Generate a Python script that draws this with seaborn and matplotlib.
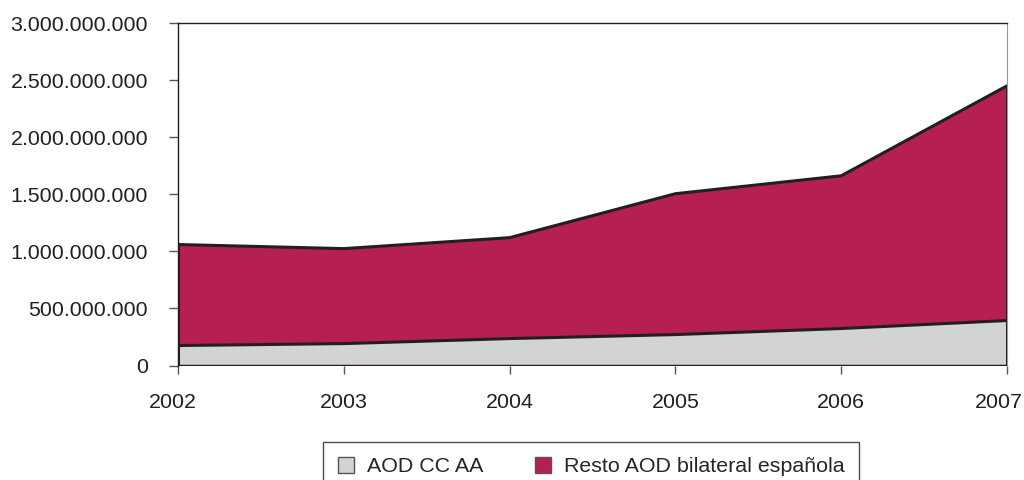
import matplotlib
matplotlib.use("Agg")
import matplotlib.pyplot as plt
import matplotlib.transforms as mtransforms
import seaborn as sns
import pandas as pd
from matplotlib.patches import Patch
from matplotlib.ticker import FuncFormatter

years = [2002, 2003, 2004, 2005, 2006, 2007]
aod_ccaa = [175e6, 192e6, 236e6, 271e6, 324e6, 394e6]
resto_aod = [885e6, 832e6, 884e6, 1234e6, 1338e6, 2056e6]
series_names = ["AOD CC AA", "Resto AOD bilateral española"]
colors = ["#D1D3D4", "#B51F52"]

sns.set_theme(style="white")
plt.rcParams['font.family'] = ['Liberation Sans', 'DejaVu Sans']

total = [a + b for a, b in zip(aod_ccaa, resto_aod)]
df = pd.DataFrame({"year": years, "ccaa": aod_ccaa, "total": total})

fig = plt.figure(figsize=(10.24, 4.8), dpi=100)
ax = fig.add_axes([0.1738, 0.2385, 0.8096, 0.7135])

ax.fill_between(df["year"], 0, df["ccaa"], color=colors[0], lw=0)
ax.fill_between(df["year"], df["ccaa"], df["total"], color=colors[1], lw=0)
sns.lineplot(data=df, x="year", y="ccaa", ax=ax, color="#231F20", lw=2.2)
sns.lineplot(data=df, x="year", y="total", ax=ax, color="#231F20", lw=2.2)
ax.vlines([years[0], years[-1]], 0, [total[0], total[-1]], color="#231F20", lw=2.2)
ax.hlines(0, years[0], years[-1], color="#231F20", lw=2.5, zorder=5)

ax.set_xlim(years[0], years[-1])
ax.set_ylim(0, 3e9)
ax.set_yticks([0, 5e8, 1e9, 1.5e9, 2e9, 2.5e9, 3e9])
ax.yaxis.set_major_formatter(FuncFormatter(lambda v, p: f"{int(v):,}".replace(",", ".")))
ax.set_xticks(years)
ax.set_xlabel("")
ax.set_ylabel("")

for s in ["left", "top"]:
    ax.spines[s].set_color("#231F20")
    ax.spines[s].set_linewidth(1.0)
ax.spines["right"].set_color("#999999")
ax.spines["right"].set_linewidth(0.8)
ax.spines["bottom"].set_visible(False)

ax.tick_params(axis="y", which="both", left=True, length=6.5, width=1, color="#555555",
               labelsize=15.4, labelcolor="#231F20", pad=15)
ax.tick_params(axis="x", which="both", bottom=True, length=6, width=1, color="#555555",
               labelsize=15.4, labelcolor="#231F20", pad=14)

# nudge the last x label so it stays inside the figure, as in the reference
xlabels = ax.get_xticklabels()
off = mtransforms.ScaledTranslation(-8 / 100, 0, fig.dpi_scale_trans)
xlabels[-1].set_transform(xlabels[-1].get_transform() + off)
off0 = mtransforms.ScaledTranslation(-5 / 100, 0, fig.dpi_scale_trans)
xlabels[0].set_transform(xlabels[0].get_transform() + off0)

handles = [Patch(facecolor=colors[0], edgecolor="#555555", lw=1.0),
           Patch(facecolor=colors[1], edgecolor="#555555", lw=1.0)]
leg = fig.legend(handles, series_names, loc="upper center", bbox_to_anchor=(0.5776, 0.0792),
                 ncol=2, frameon=True, fancybox=False, fontsize=15.4,
                 handlelength=0.75, handleheight=0.75, columnspacing=2.4,
                 borderpad=0.7, handletextpad=0.6, borderaxespad=0)
leg.get_frame().set_edgecolor("#231F20")
leg.get_frame().set_linewidth(1.0)

fig.savefig("out.png", dpi=100)
